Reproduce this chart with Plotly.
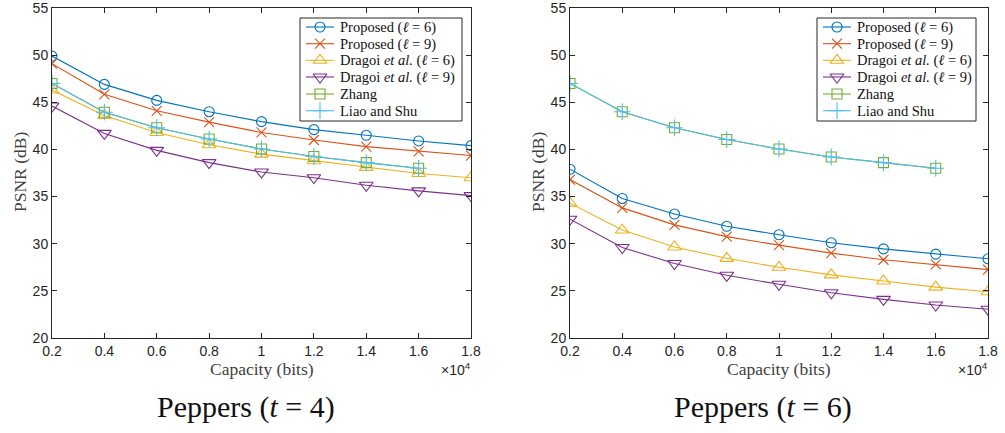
import plotly.graph_objects as go

W, H = 1005, 433

capacity = [0.2, 0.4, 0.6, 0.8, 1.0, 1.2, 1.4, 1.6, 1.8]  # x 10^4 bits
capacity_zl = [0.2, 0.4, 0.6, 0.8, 1.0, 1.2, 1.4, 1.6]

# Peppers t = 4
t4_prop6 = [49.9, 46.9, 45.2, 44.0, 42.95, 42.1, 41.5, 40.9, 40.4]
t4_prop9 = [49.1, 45.85, 44.1, 42.9, 41.8, 41.0, 40.3, 39.8, 39.35]
t4_drag6 = [46.3, 43.6, 41.8, 40.5, 39.5, 38.8, 38.1, 37.45, 37.0]
t4_drag9 = [44.6, 41.7, 39.9, 38.6, 37.6, 37.0, 36.2, 35.6, 35.1]
t4_zhang = [47.0, 43.95, 42.3, 41.1, 40.05, 39.25, 38.6, 38.0]
t4_liao = [47.0, 43.95, 42.3, 41.1, 40.05, 39.25, 38.6, 38.0]

# Peppers t = 6
t6_prop6 = [37.9, 34.8, 33.15, 31.85, 30.95, 30.1, 29.45, 28.9, 28.4]
t6_prop9 = [36.8, 33.8, 32.0, 30.75, 29.85, 29.0, 28.3, 27.8, 27.25]
t6_drag6 = [34.3, 31.45, 29.65, 28.45, 27.5, 26.7, 26.05, 25.4, 24.9]
t6_drag9 = [32.6, 29.6, 27.9, 26.65, 25.7, 24.8, 24.1, 23.5, 23.05]
t6_zhang = [47.0, 44.0, 42.3, 41.05, 40.05, 39.2, 38.6, 38.0]
t6_liao = [47.0, 44.0, 42.3, 41.05, 40.05, 39.2, 38.6, 38.0]

x_ticks = [0.2, 0.4, 0.6, 0.8, 1.0, 1.2, 1.4, 1.6, 1.8]
x_ticktext = ["0.2", "0.4", "0.6", "0.8", "1", "1.2", "1.4", "1.6", "1.8"]
y_ticks = [20, 25, 30, 35, 40, 45, 50, 55]

names = ["Proposed (<i>ℓ</i> = 6)", "Proposed (<i>ℓ</i> = 9)",
         "Dragoi <i>et al.</i> (<i>ℓ</i> = 6)", "Dragoi <i>et al.</i> (<i>ℓ</i> = 9)",
         "Zhang", "Liao and Shu"]
colors = ["#0072BD", "#D95319", "#EDB120", "#7E2F8E", "#77AC30", "#4DBEEE"]
symbols = ["circle-open", "x-thin-open", "triangle-up-open", "triangle-down-open",
           "square-open", "cross-thin-open"]
sizes = [10, 10, 12, 12, 10, 12]

serif = "Liberation Serif, Times New Roman, serif"
sans = "Liberation Sans, Arial, sans-serif"
axcol = "#262626"

L = (52, 471)
R = (570, 988)
top, bot = 8, 338

def px_x(v):
    return v / W

def px_y(v):
    return 1 - v / H

panels = [
    dict(xa="x", ya="y", lxa="x3", lya="y3", box=(300, 462), span=L,
         title="Peppers (<i>t</i> = 4)",
         series=[(capacity, t4_prop6), (capacity, t4_prop9), (capacity, t4_drag6),
                 (capacity, t4_drag9), (capacity_zl, t4_zhang), (capacity_zl, t4_liao)]),
    dict(xa="x2", ya="y2", lxa="x4", lya="y4", box=(817, 976), span=R,
         title="Peppers (<i>t</i> = 6)",
         series=[(capacity, t6_prop6), (capacity, t6_prop9), (capacity, t6_drag6),
                 (capacity, t6_drag9), (capacity_zl, t6_zhang), (capacity_zl, t6_liao)]),
]

# legend layout (pixel offsets inside the legend box)
leg_top, leg_bot = 18, 121
row_y = [27, 43.7, 60.3, 77, 94, 110.7]
sample_x = [6, 20, 34]
text_x = 38

fig = go.Figure()
shapes = []
annos = []
for p in panels:
    for i, (xs, ys) in enumerate(p["series"]):
        fig.add_trace(go.Scatter(
            x=xs, y=ys, mode="lines+markers", name=names[i], showlegend=False,
            xaxis=p["xa"], yaxis=p["ya"],
            line=dict(color=colors[i], width=1.1),
            marker=dict(symbol=symbols[i], size=sizes[i], color=colors[i],
                        line=dict(color=colors[i], width=1.1)),
        ))
    b0, b1 = p["box"]
    shapes.append(dict(type="rect", xref="paper", yref="paper", layer="below",
                       x0=px_x(b0), x1=px_x(b1), y0=px_y(leg_bot), y1=px_y(leg_top),
                       fillcolor="white", line=dict(color=axcol, width=1)))
    for i in range(6):
        fig.add_trace(go.Scatter(
            x=[b0 + sx for sx in sample_x], y=[row_y[i]] * 3, mode="lines+markers",
            showlegend=False, hoverinfo="skip", xaxis=p["lxa"], yaxis=p["lya"],
            line=dict(color=colors[i], width=1.1),
            marker=dict(symbol=symbols[i], size=sizes[i], color=colors[i],
                        opacity=[0, 1, 0], line=dict(color=colors[i], width=1.1)),
        ))
        annos.append(dict(text=names[i], x=px_x(b0 + text_x), y=px_y(row_y[i] + 0.5),
                          xref="paper", yref="paper", xanchor="left", yanchor="middle",
                          showarrow=False,
                          font=dict(family=serif, size=14.5, color="#111111")))

tickfont = dict(family=sans, size=14, color="#262626")
common_x = dict(range=[0.2, 1.8], tickvals=x_ticks, ticktext=x_ticktext,
                ticks="inside", ticklen=5, tickcolor=axcol, showline=True,
                linecolor=axcol, linewidth=1, mirror="ticks", showgrid=False,
                zeroline=False, tickfont=tickfont, automargin=False,
                ticklabeloverflow="allow")
common_y = dict(range=[20, 55], tickvals=y_ticks, ticks="inside", ticklen=5,
                tickcolor=axcol, showline=True, linecolor=axcol, linewidth=1,
                mirror="ticks", showgrid=False, zeroline=False, tickfont=tickfont,
                automargin=False, ticklabeloverflow="allow")
hidden = dict(visible=False, showgrid=False, zeroline=False, fixedrange=True)

fig.update_layout(
    width=W, height=H, template="none",
    margin=dict(l=0, r=0, t=0, b=0),
    paper_bgcolor="white", plot_bgcolor="rgba(0,0,0,0)",
    xaxis=dict(domain=[px_x(L[0]), px_x(L[1])], anchor="y", **common_x),
    yaxis=dict(domain=[px_y(bot), px_y(top)], anchor="x", **common_y),
    xaxis2=dict(domain=[px_x(R[0]), px_x(R[1])], anchor="y2", **common_x),
    yaxis2=dict(domain=[px_y(bot), px_y(top)], anchor="x2", **common_y),
    xaxis3=dict(domain=[px_x(panels[0]["box"][0]), px_x(panels[0]["box"][1])], anchor="y3",
                range=list(panels[0]["box"]), **hidden),
    yaxis3=dict(domain=[px_y(leg_bot), px_y(leg_top)], anchor="x3",
                range=[leg_bot, leg_top], **hidden),
    xaxis4=dict(domain=[px_x(panels[1]["box"][0]), px_x(panels[1]["box"][1])], anchor="y4",
                range=list(panels[1]["box"]), **hidden),
    yaxis4=dict(domain=[px_y(leg_bot), px_y(leg_top)], anchor="x4",
                range=[leg_bot, leg_top], **hidden),
    showlegend=False,
)

for p in panels:
    x0, x1 = p["span"]
    cx = (x0 + x1) / 2
    annos.append(dict(text="Capacity (bits)", x=px_x(cx), y=px_y(369), xref="paper", yref="paper",
                      xanchor="center", yanchor="middle", showarrow=False,
                      font=dict(family=serif, size=17.5, color="#404040")))
    annos.append(dict(text="×10<sup>4</sup>", x=px_x(x1 + 2), y=px_y(369), xref="paper", yref="paper",
                      xanchor="right", yanchor="middle", showarrow=False,
                      font=dict(family=sans, size=14, color="#262626")))
    annos.append(dict(text="PSNR (dB)", x=px_x(x0 - 32), y=px_y(172), xref="paper",
                      yref="paper", xanchor="center", yanchor="middle", showarrow=False,
                      textangle=-90, font=dict(family=serif, size=17.5, color="#404040")))
    annos.append(dict(text=p["title"], x=px_x(cx - 16), y=px_y(407), xref="paper", yref="paper",
                      xanchor="center", yanchor="middle", showarrow=False,
                      font=dict(family=serif, size=30, color="#111111")))

fig.update_layout(annotations=annos, shapes=shapes)

fig.write_html("out.html")
